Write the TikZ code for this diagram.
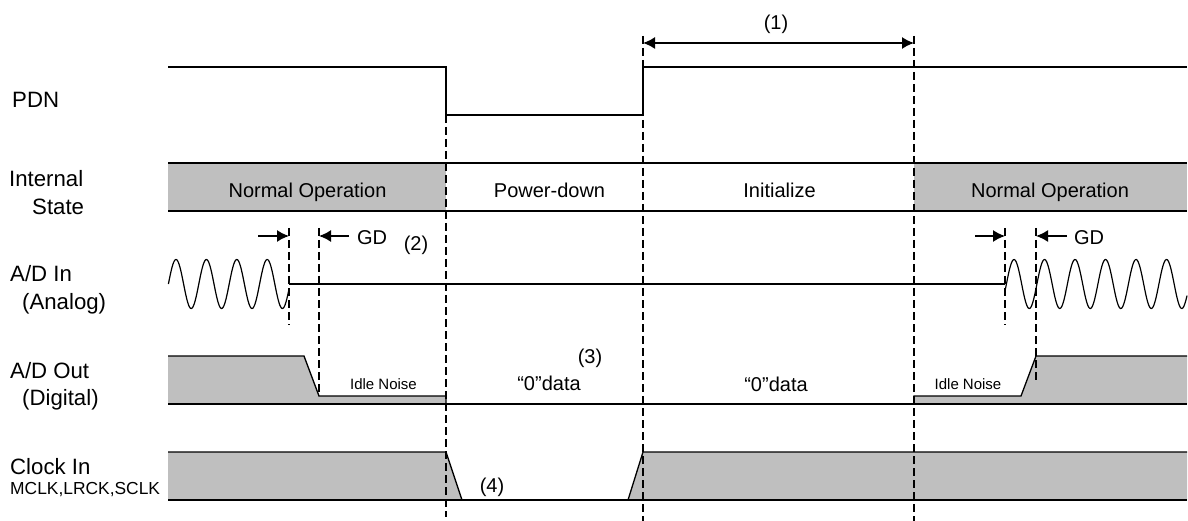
\documentclass[tikz,border=0pt]{standalone}
\usepackage{fontspec}
\setmainfont{Liberation Sans}
\usetikzlibrary{arrows.meta}
\definecolor{bandgray}{HTML}{BFBFBF}
\tikzset{
  x=1pt,y=-1pt,
  sig/.style={line width=1.3pt,black,line join=miter},
  guide/.style={line width=1.2pt,dash pattern=on 8pt off 4pt},
  dim/.style={line width=1.5pt,-{Latex[length=12pt,width=12pt]}},
  dimb/.style={line width=1.5pt,{Latex[length=12pt,width=12pt]}-{Latex[length=12pt,width=12pt]}},
  lab/.style={font=\fontsize{22.2}{25}\selectfont,inner sep=0pt,anchor=base west},
  mid/.style={font=\fontsize{20}{23}\selectfont,inner sep=0pt,anchor=base},
  tiny/.style={font=\fontsize{15}{17}\selectfont,inner sep=0pt,anchor=base},
}
\begin{document}
\begin{tikzpicture}
\useasboundingbox (0,0) rectangle (1188,521);
% gray fills
\fill[bandgray] (168,163) rectangle (446,211);
\fill[bandgray] (914,163) rectangle (1187,211);
\fill[bandgray] (168,356) -- (304,356) -- (319,396) -- (446,396) -- (446,404) -- (168,404) -- cycle;
\fill[bandgray] (914,404) -- (914,396) -- (1021,396) -- (1036,356) -- (1187,356) -- (1187,404) -- cycle;
\fill[bandgray] (168,452) -- (446,452) -- (462,500) -- (168,500) -- cycle;
\fill[bandgray] (1187,452) -- (643,452) -- (628,500) -- (1187,500) -- cycle;
% guides
\coordinate (g1t) at (446,67);  \coordinate (g1b) at (446,517);
\coordinate (g2t) at (643,36);  \coordinate (g2b) at (643,521);
\coordinate (g3t) at (914,36);  \coordinate (g3b) at (914,521);
\coordinate (a1t) at (289,228); \coordinate (a1b) at (289,325);
\coordinate (a2t) at (319,228); \coordinate (a2b) at (319,396);
\coordinate (b1t) at (1005,228); \coordinate (b1b) at (1005,325);
\coordinate (b2t) at (1036,228); \coordinate (b2b) at (1036,381);
\draw[guide] (g1t) -- (g1b);
\draw[guide] (g2t) -- (g2b);
\draw[guide] (g3t) -- (g3b);
\draw[guide] (a1t) -- (a1b);
\draw[guide] (a2t) -- (a2b);
\draw[guide] (b1t) -- (b1b);
\draw[guide] (b2t) -- (b2b);
% PDN
\draw[sig] (168,67) -- (446,67) -- (446,115) -- (643,115) -- (643,67) -- (1187,67);
% Internal state
\draw[sig] (168,163) -- (1187,163);
\draw[sig] (168,211) -- (1187,211);
% A/D in
\draw[sig] (289,284) -- (1005,284);
\draw[sig,line width=1.2pt,domain=168.4:289,samples=160,smooth,variable=\t] plot (\t,{284-24.5*sin((\t-168.4)/30.4*360)});
\draw[sig,line width=1.2pt,domain=1005:1187,samples=220,smooth,variable=\t] plot (\t,{284-24.5*sin((\t-1006.4)/30.5*360)});
% A/D out
\draw[sig] (168,356) -- (304,356) -- (319,396) -- (446,396) -- (446,404);
\draw[sig] (914,404) -- (914,396) -- (1021,396) -- (1036,356) -- (1187,356);
\draw[sig] (168,404) -- (1187,404);
% Clock in
\draw[sig] (168,452) -- (446,452) -- (462,500) -- (628,500) -- (643,452) -- (1187,452);
\draw[sig] (168,500) -- (1187,500);
% dimensions
\draw[dimb] (g2t |- 0,43) -- (g3t |- 0,43);
\coordinate (ga1) at (258,236); \coordinate (ga2) at (349,236);
\coordinate (gb1) at (975,236); \coordinate (gb2) at (1067,236);
\draw[dim] (ga1) -- (a1t |- ga1);
\draw[dim] (ga2) -- (a2t |- ga2);
\draw[dim] (gb1) -- (b1t |- gb1);
\draw[dim] (gb2) -- (b2t |- gb2);
% labels
\node[lab] (pdn) at (12,108) {PDN};
\node[lab] (int) at (9,187) {Internal};
\node[lab] (st) at (32,215) {State};
\node[lab] (adin) at (10,282) {A/D In};
\node[lab] (ana) at (22,309) {(Analog)};
\node[lab] (adout) at (10,378) {A/D Out};
\node[lab] (dig) at (22,405) {(Digital)};
\node[lab] (clk) at (10,474) {Clock In};
\node[font=\fontsize{17.4}{20}\selectfont,inner sep=0pt,anchor=base west] (mc) at (10,494) {MCLK,LRCK,SCLK};
\node[mid] (n1) at (307.5,198) {Normal Operation};
\node[mid] (pd) at (549.5,198) {Power-down};
\node[mid] (ini) at (779.5,198) {Initialize};
\node[mid] (n2) at (1050,198) {Normal Operation};
\node[mid] (l1) at (776,30) {(1)};
\node[mid] (gd1) at (372,245) {GD};
\node[mid] (gd2) at (1089,245) {GD};
\node[mid] (l2) at (416,251) {(2)};
\node[mid] (l3) at (590,363) {(3)};
\node[mid] (l4) at (492,492) {(4)};
\node[mid] (d1) at (549,390) {“0”data};
\node[mid] (d2) at (776,391) {“0”data};
\node[tiny] (idle1) at (383.5,389) {Idle Noise};
\node[tiny] (idle2) at (968,389) {Idle Noise};
\end{tikzpicture}
\end{document}
